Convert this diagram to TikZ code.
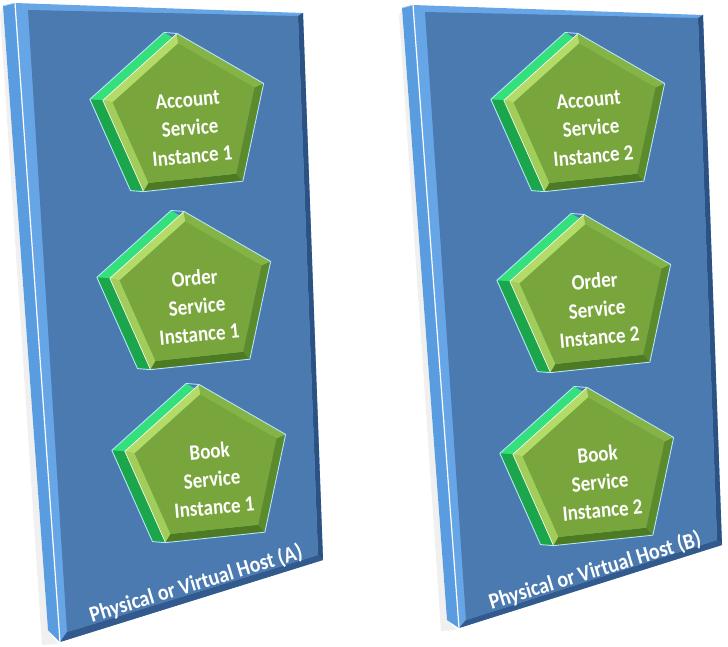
\documentclass[tikz,border=0pt]{standalone}
\usepackage{fontspec}
\setmainfont{Carlito}
\usetikzlibrary{calc}
\definecolor{hostface}{HTML}{4A7AB0}
\definecolor{hostrim}{HTML}{66A5E6}
\definecolor{hostside}{HTML}{5A9CE0}
\definecolor{hostdark}{HTML}{2C5283}
\definecolor{sidetop}{HTML}{33E07C}
\definecolor{sidelow}{HTML}{1CA64B}
\definecolor{svcface}{HTML}{79A63C}
\definecolor{bevA}{HTML}{B4DA68}
\definecolor{bevB}{HTML}{A2CD5A}
\definecolor{bevC}{HTML}{4D7A22}
\definecolor{bevD}{HTML}{5B8B2B}
\definecolor{bevE}{HTML}{85B345}

\begin{document}
\begin{tikzpicture}[x=1pt, y=-1pt,
  svclabel/.style={text=white, align=center, inner sep=0pt, font=\bfseries\fontsize{19}{24.5}\selectfont},
  hostlabel/.style={text=white, inner sep=0pt, font=\bfseries\fontsize{20}{24}\selectfont}]
\useasboundingbox (0,0) rectangle (728,646);
% host A
\coordinate (A-tl) at (15,3);
\coordinate (A-tr) at (303,13);
\coordinate (A-br) at (323,560);
\coordinate (A-bl) at (60,642);
\fill[black!6] (0,14) -- (3,6) -- (48,630) -- (58,644) -- (42,645) -- cycle;
\fill[hostside] (3,6) -- (A-tl) -- (A-bl) -- (48,630) -- cycle;
\fill[hostrim] (A-tl) -- (A-tr) -- (A-br) -- (A-bl) -- cycle;
\fill[hostdark] (298,16) -- (A-tr) -- (A-br) -- (318,555) -- cycle;
\fill[hostdark!80!hostface] (318,555) -- (A-br) -- (A-bl) -- (67,632) -- cycle;
\fill[hostface] (28,10) -- (298,16) -- (318,555) -- (67,632) -- cycle;
\draw[white, line width=1.2pt] (A-tl) -- (A-bl);
\draw[white!50!hostside, line width=.8pt] (3,6) -- (A-tl);
\node[hostlabel, rotate=17, yscale=1.12] (hA) at (196,584) {Physical or Virtual Host (A)};
% host B
\coordinate (B-tl) at (413,5);
\coordinate (B-tr) at (703,15);
\coordinate (B-br) at (722,545);
\coordinate (B-bl) at (459,628);
\fill[black!6] (399,16) -- (402,8) -- (447,620) -- (457,630) -- (441,631) -- cycle;
\fill[hostside] (402,8) -- (B-tl) -- (B-bl) -- (447,620) -- cycle;
\fill[hostrim] (B-tl) -- (B-tr) -- (B-br) -- (B-bl) -- cycle;
\fill[hostdark] (698,18) -- (B-tr) -- (B-br) -- (717,540) -- cycle;
\fill[hostdark!80!hostface] (717,540) -- (B-br) -- (B-bl) -- (466,620) -- cycle;
\fill[hostface] (425,12) -- (698,18) -- (717,540) -- (466,620) -- cycle;
\draw[white, line width=1.2pt] (B-tl) -- (B-bl);
\draw[white!50!hostside, line width=.8pt] (402,8) -- (B-tl);
\node[hostlabel, rotate=17, yscale=1.12] (hB) at (595,571) {Physical or Virtual Host (B)};
% service instances
\foreach \n/\cx/\cy/\svc/\num in {a1/186/118/Account/1, o1/193/296/Order/1, b1/208/469/Book/1,
                                  a2/587/118/Account/2, o2/593/299/Order/2, b2/596/472/Book/2}{
  \coordinate (\n) at (\cx,\cy);
  \foreach \k in {0,...,4}{
    \coordinate (\n-\k) at ($(\n)+(96+72*\k:85pt)$);
    \coordinate (\n-i\k) at ($(\n)+(96+72*\k:75pt)$);
    \coordinate (\n-b\k) at ($(\n-\k)+(-13,-1)$);
  }
  \fill[sidetop] (\n-b0) -- (\n-b1) -- (\n-b2) -- (\n-b3) -- (\n-b4) -- cycle;
  \fill[sidelow] (\n-1) -- (\n-2) -- (\n-b2) -- (\n-b1) -- cycle;
  \foreach \k/\c in {0/bevA, 1/bevB, 2/bevC, 3/bevD, 4/bevE}{
    \pgfmathtruncatemacro\j{mod(\k+1,5)}
    \fill[\c] (\n-\k) -- (\n-\j) -- (\n-i\j) -- (\n-i\k) -- cycle;
  }
  \fill[svcface] (\n-i0) -- (\n-i1) -- (\n-i2) -- (\n-i3) -- (\n-i4) -- cycle;
  \draw[white, line width=.6pt] (\n-0) -- (\n-1) -- (\n-2);
  \draw[white!70!cyan, line width=.9pt, line join=round]
    (\n-b0) -- (\n-b1) -- (\n-b2) -- (\n-2) -- (\n-3) -- (\n-4) -- (\n-0) -- cycle;
  \node[svclabel, rotate=5, yscale=1.15] (\n-txt) at ($(\n)+(4,10)$) {\svc\\Service\\Instance \num};
}
\end{tikzpicture}
\end{document}
